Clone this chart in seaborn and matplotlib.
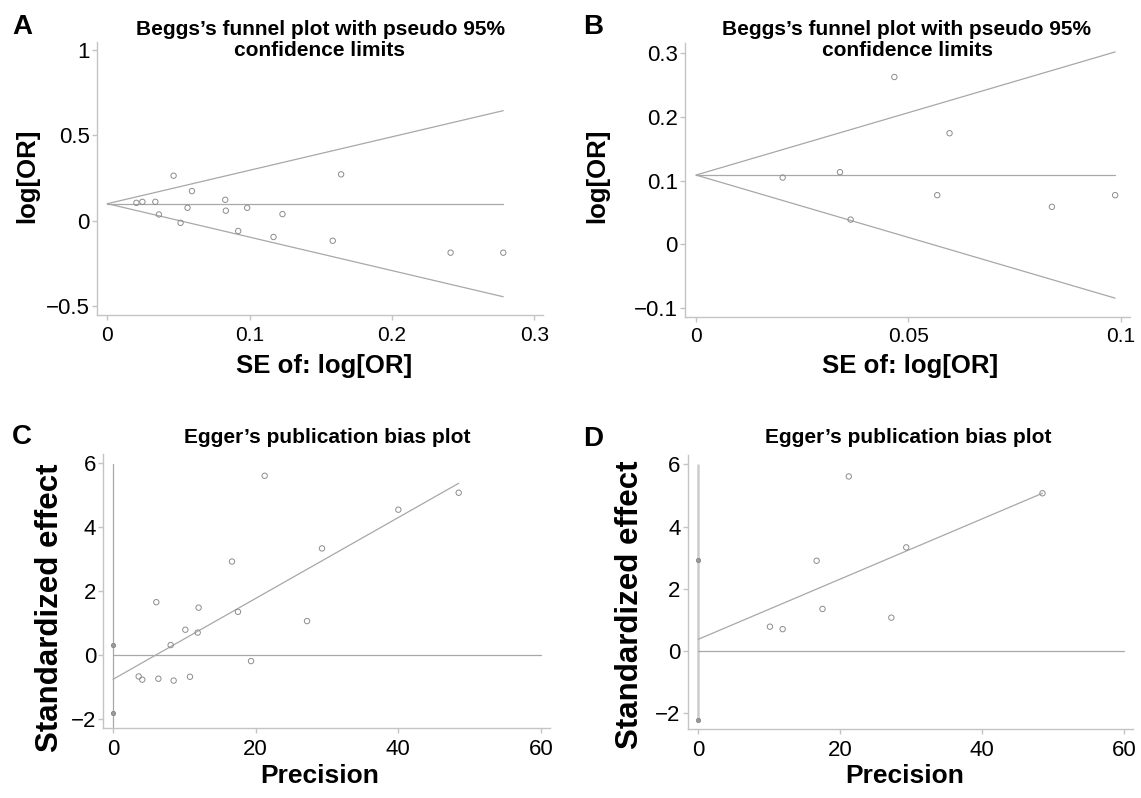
import numpy as np
import pandas as pd
import seaborn as sns
import matplotlib.pyplot as plt
from matplotlib.ticker import FuncFormatter

# ---- data ----
# A: Begg's funnel plot, all studies
se_a = [0.0204, 0.0246, 0.0337, 0.0362, 0.0465, 0.0514, 0.0563, 0.0594, 0.0828,
        0.0832, 0.0919, 0.0982, 0.1167, 0.1230, 0.1583, 0.1642, 0.2411, 0.2781]
logor_a = [0.105, 0.111, 0.111, 0.037, 0.264, -0.012, 0.076, 0.174, 0.123,
           0.059, -0.060, 0.076, -0.095, 0.039, -0.117, 0.272, -0.187, -0.187]
pooled_a = 0.10

# B: Begg's funnel plot, subgroup
se_b = [0.0204, 0.0339, 0.0364, 0.0467, 0.0568, 0.0597, 0.0838, 0.0987]
logor_b = [0.105, 0.1135, 0.039, 0.263, 0.0774, 0.1747, 0.059, 0.0774]
pooled_b = 0.109

# C: Egger's plot, all studies
prec_c = [3.6, 4.1, 6.07, 6.36, 8.08, 8.5, 10.14, 10.79, 11.87, 12.0,
          16.68, 17.52, 19.35, 21.26, 27.2, 29.3, 40.0, 48.46]
eff_c = [-0.66, -0.76, 1.66, -0.73, 0.32, -0.79, 0.80, -0.67, 0.71, 1.49,
         2.93, 1.36, -0.18, 5.61, 1.07, 3.34, 4.55, 5.08]
ci_c = [-1.81, 0.31]          # intercept 95% CI
fit_c = [-0.75, 0.1264]       # intercept, slope
vline_c = [-2.25, 5.98]

# D: Egger's plot, subgroup
prec_d = [10.09, 11.88, 16.67, 17.5, 21.2, 27.2, 29.3, 48.5]
eff_d = [0.78, 0.70, 2.90, 1.35, 5.61, 1.07, 3.33, 5.07]
ci_d = [-2.22, 2.915]
fit_d = [0.375, 0.0968]
vline_d = [-2.22, 5.98]

xticks_a = [0, 0.1, 0.2, 0.3]
yticks_a = [-0.5, 0, 0.5, 1]
xticks_b = [0, 0.05, 0.1]
yticks_b = [-0.1, 0, 0.1, 0.2, 0.3]
xticks_egger = [0, 20, 40, 60]
yticks_egger = [-2, 0, 2, 4, 6]

sns.set_theme(style="ticks")
plt.rcParams['font.family'] = ['Liberation Sans', 'DejaVu Sans']
plt.rcParams['text.color'] = 'black'
plt.rcParams['xtick.labelcolor'] = 'black'
plt.rcParams['ytick.labelcolor'] = 'black'

W, H = 1141, 798
fig = plt.figure(figsize=(W / 100, H / 100), dpi=100)

LINE = '#a8a8a8'
AXC = '#c4c4c4'
PT = '#8c8c8c'


def px(x, y):
    return x / W, 1 - y / H


def add_ax(l, t, r, b):
    return fig.add_axes([l / W, 1 - b / H, (r - l) / W, (b - t) / H])


def fmt(v, pos):
    return '{:g}'.format(round(v, 4)).replace('-', '\u2212')


def style(ax, xlim, ylim, xticks, yticks, xsize, ysize):
    sns.despine(ax=ax)
    for s in ['left', 'bottom']:
        ax.spines[s].set_color(AXC)
        ax.spines[s].set_linewidth(1.0)
    ax.set_xlim(xlim)
    ax.set_ylim(ylim)
    ax.set_xticks(xticks)
    ax.set_yticks(yticks)
    ax.xaxis.set_major_formatter(FuncFormatter(fmt))
    ax.yaxis.set_major_formatter(FuncFormatter(fmt))
    ax.tick_params(axis='x', color=AXC, labelcolor='black', length=3.6, width=1,
                   labelsize=xsize, pad=4)
    ax.tick_params(axis='y', color=AXC, labelcolor='black', length=3.6, width=1,
                   labelsize=ysize, pad=1.5)
    ax.set_xlabel('')
    ax.set_ylabel('')


def funnel(ax, se, lor, pooled):
    df = pd.DataFrame({'se': se, 'lor': lor})
    smax = max(se)
    ax.plot([0, smax], [pooled, pooled], color=LINE, lw=0.9)
    ax.plot([0, smax], [pooled, pooled + 1.96 * smax], color=LINE, lw=0.9)
    ax.plot([0, smax], [pooled, pooled - 1.96 * smax], color=LINE, lw=0.9)
    sns.scatterplot(data=df, x='se', y='lor', ax=ax, marker='o', s=15,
                    facecolor='none', edgecolor=PT, linewidth=0.7, zorder=3)


def egger(ax, prec, eff, ci, fit, vline, vlw, vcol):
    df = pd.DataFrame({'prec': prec, 'eff': eff})
    ax.plot([0, 0], vline, color=vcol, lw=vlw)
    ax.plot([0, max(xticks_egger)], [0, 0], color=LINE, lw=0.9)
    pmax = max(prec)
    ax.plot([0, pmax], [fit[0], fit[0] + fit[1] * pmax], color=LINE, lw=0.9)
    sns.scatterplot(data=df, x='prec', y='eff', ax=ax, marker='o', s=15,
                    facecolor='none', edgecolor=PT, linewidth=0.7, zorder=3)
    ci_df = pd.DataFrame({'x': [0, 0], 'y': ci})
    sns.scatterplot(data=ci_df, x='x', y='y', ax=ax, marker='o', s=10,
                    color='#9a9a9a', edgecolor='#808080', linewidth=0.5, zorder=3)


# A
ax_a = add_ax(96.7, 41.7, 543, 315)
funnel(ax_a, se_a, logor_a, pooled_a)
style(ax_a, (-0.0075, 0.306), (-0.552, 1.049), xticks_a, yticks_a, 15, 16)

# B
ax_b = add_ax(685, 43.3, 1130, 316.7)
funnel(ax_b, se_b, logor_b, pooled_b)
style(ax_b, (-0.0026, 0.1022), (-0.1136, 0.316), xticks_b, yticks_b, 15, 16)

# C
ax_c = add_ax(103.3, 454, 550, 728.3)
egger(ax_c, prec_c, eff_c, ci_c, fit_c, vline_c, 0.9, LINE)
style(ax_c, (-1.36, 61.26), (-2.28, 6.29), xticks_egger, yticks_egger, 16, 16)

# D
ax_d = add_ax(687.7, 455, 1133.3, 729.3)
egger(ax_d, prec_d, eff_d, ci_d, fit_d, vline_d, 1.8, '#cccccc')
style(ax_d, (-1.5, 61.3), (-2.52, 6.3), xticks_egger, yticks_egger, 16, 16)

# titles
beggs = "Beggs\u2019s funnel plot with pseudo 95%\nconfidence limits"
eggers = "Egger\u2019s publication bias plot"
fig.text(*px(320, 40), beggs, ha='center', va='center', fontsize=15,
         fontweight='bold', linespacing=1.1)
fig.text(*px(907, 40), beggs, ha='center', va='center', fontsize=15,
         fontweight='bold', linespacing=1.1)
fig.text(*px(327, 437), eggers, ha='center', va='center', fontsize=15, fontweight='bold')
fig.text(*px(908, 437), eggers, ha='center', va='center', fontsize=15, fontweight='bold')

# axis labels
lab = dict(fontsize=18.5, fontweight='bold')
fig.text(*px(27.5, 176), 'log[OR]', rotation=90, ha='center', va='center', **lab)
fig.text(*px(597, 176), 'log[OR]', rotation=90, ha='center', va='center', **lab)
fig.text(*px(324, 366), 'SE of: log[OR]', ha='center', va='center', **lab)
fig.text(*px(910, 366), 'SE of: log[OR]', ha='center', va='center', **lab)
fig.text(*px(50, 608), 'Standardized effect', rotation=90, ha='center', va='center',
         fontsize=22.5, fontweight='bold')
fig.text(*px(630, 605), 'Standardized effect', rotation=90, ha='center', va='center',
         fontsize=22.5, fontweight='bold')
fig.text(*px(320, 776), 'Precision', ha='center', va='center', fontsize=19, fontweight='bold')
fig.text(*px(905, 776), 'Precision', ha='center', va='center', fontsize=19, fontweight='bold')

# panel letters
for letter, (x, y) in zip('ABCD', [(12, 14), (583, 14), (12, 424), (583, 426)]):
    fig.text(*px(x, y), letter, ha='left', va='top', fontsize=20, fontweight='bold')

fig.savefig('out.png', dpi=100)
